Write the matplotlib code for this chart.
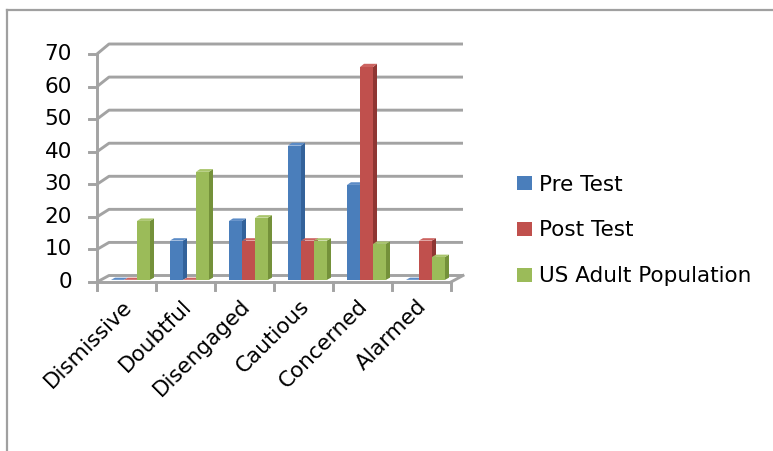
import matplotlib.pyplot as plt
from matplotlib.lines import Line2D
from matplotlib.patches import Polygon, Patch

categories = ["Dismissive", "Doubtful", "Disengaged", "Cautious", "Concerned", "Alarmed"]
series_names = ["Pre Test", "Post Test", "US Adult Population"]
pre_test = [0, 12, 18, 41, 29, 0]
post_test = [0, 0, 12, 12, 65, 12]
us_adult = [18, 33, 19, 12, 11, 7]
y_ticks = [0, 10, 20, 30, 40, 50, 60, 70]

series = [pre_test, post_test, us_adult]
# front, side, top colours for each series
face_colors = [
    ("#4a7ebb", "#33629a", "#5b8bc6"),
    ("#c0504d", "#8f3633", "#cc6360"),
    ("#9bbb59", "#74913a", "#a9c56c"),
]
grid_color = "#a3a3a3"

W, H = 773, 451
fig = plt.figure(figsize=(W / 100, H / 100), dpi=100)
ax = fig.add_axes([0, 0, 1, 1])

# plot box: left edge of floor at 97 px, zero line at 282 px
x0_px, y0_px = 97, 282
cat_px = 59.0
unit_px = 3.257
ax.set_xlim(-x0_px / cat_px, (W - x0_px) / cat_px)
ax.set_ylim((y0_px - H) / unit_px, y0_px / unit_px)
ax.axis("off")

n = len(categories)
ymax = y_ticks[-1]
DX = 12 / cat_px


def depth_y(v):
    # slight perspective: walls get deeper towards the top
    return (6.5 + 3.5 * v / ymax) / unit_px


def proj(x, v, d):
    return (x + d * DX, v + d * depth_y(v))


lw = 2.1
# back wall gridlines and left wall diagonals
for t in y_ticks:
    pts = [proj(0, t, 0), proj(0, t, 1), proj(n, t, 1)]
    ax.plot([p[0] for p in pts], [p[1] for p in pts], color=grid_color, lw=lw,
            solid_capstyle="butt", zorder=1)
    ax.plot([-8 / cat_px, 0], [t, t], color=grid_color, lw=lw, zorder=1)
    ax.text((72 - x0_px) / cat_px, t, str(t), ha="right", va="center",
            fontsize=15.5, color="black")

# vertical axis and floor edges
ax.plot([0, 0], [0, ymax], color=grid_color, lw=lw, zorder=1)
ax.plot([0, n], [0, 0], color=grid_color, lw=lw, zorder=1)
rf = [proj(n, 0, 0), proj(n, 0, 1)]
ax.plot([rf[0][0], rf[1][0]], [rf[0][1], rf[1][1]], color=grid_color, lw=lw, zorder=1)
for c in range(n + 1):
    ax.plot([c, c], [0, -8 / unit_px], color=grid_color, lw=lw, zorder=1)

# bars with front, side and top faces
bw = 13 / cat_px
gap = (1 - 3 * bw) / 2
d0, d1 = 1 / 3, 2 / 3
for c in range(n):
    for i, vals in enumerate(series):
        v = vals[c]
        xl = c + gap + i * bw
        xr = xl + bw
        front_c, side_c, top_c = face_colors[i]
        side = [proj(xr, 0, d0), proj(xr, 0, d1), proj(xr, v, d1), proj(xr, v, d0)]
        top = [proj(xl, v, d0), proj(xr, v, d0), proj(xr, v, d1), proj(xl, v, d1)]
        front = [proj(xl, 0, d0), proj(xr, 0, d0), proj(xr, v, d0), proj(xl, v, d0)]
        ax.add_patch(Polygon(side, closed=True, facecolor=side_c, edgecolor="none", zorder=3))
        ax.add_patch(Polygon(top, closed=True, facecolor=top_c, edgecolor="none", zorder=3))
        ax.add_patch(Polygon(front, closed=True, facecolor=front_c, edgecolor="none", zorder=3))

# rotated category labels
for c, name in enumerate(categories):
    ax.text(c + 0.5 - 0.08, -4.3, name, rotation=45, rotation_mode="anchor",
            ha="right", va="top", fontsize=15.5, color="black")

handles = [Patch(facecolor=fc[0], edgecolor="none") for fc in face_colors]
leg = fig.legend(handles, series_names, loc="center left",
                 bbox_to_anchor=(517 / W, 1 - 230.5 / H), bbox_transform=fig.transFigure,
                 frameon=False, fontsize=15.5, handlelength=0.7, handleheight=0.62,
                 handletextpad=0.3, labelspacing=1.2, borderpad=0, borderaxespad=0)

# outer chart border
fig.add_artist(Line2D([7.5 / W, 7.5 / W], [0, 1 - 10 / H], transform=fig.transFigure,
                      color="#a0a0a0", lw=1.6))
fig.add_artist(Line2D([7.5 / W, 1], [1 - 10 / H, 1 - 10 / H], transform=fig.transFigure,
                      color="#a0a0a0", lw=1.6))

fig.savefig("out.png", dpi=100)
